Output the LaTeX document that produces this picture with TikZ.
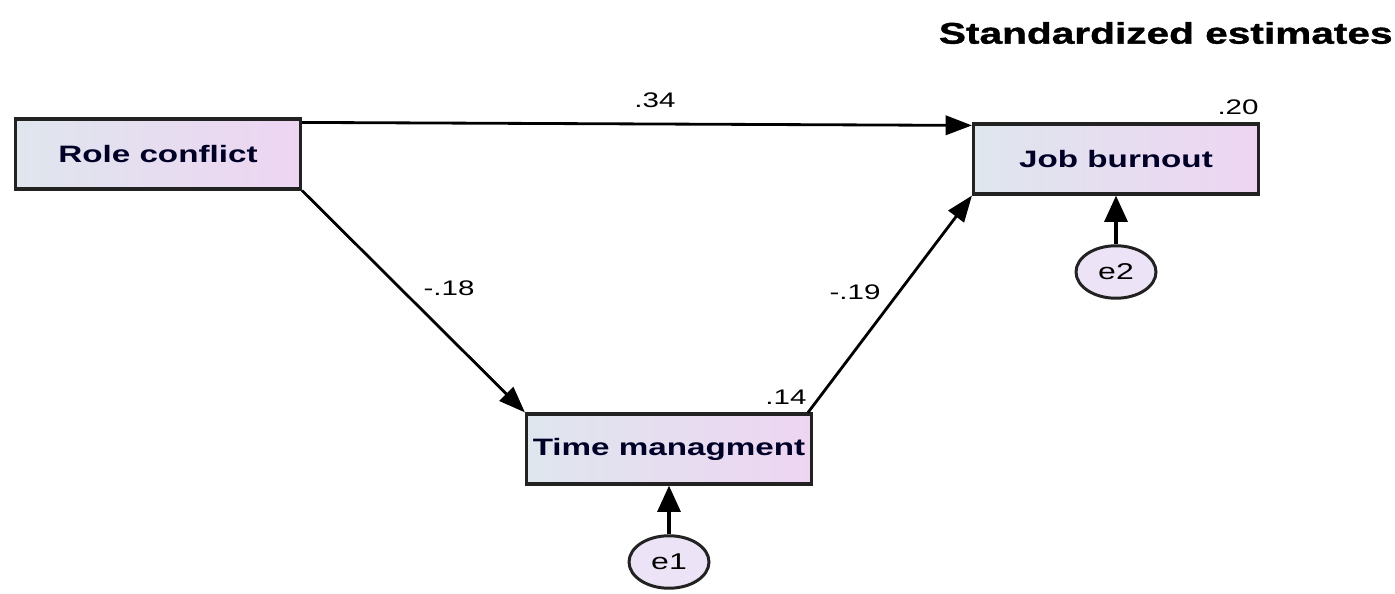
\documentclass[tikz,border=0pt]{standalone}
\usepackage{fontspec}
\usetikzlibrary{arrows.meta,shapes.geometric}
\newfontfamily\semfont[FakeStretch=1.4]{Liberation Sans}
\newfontfamily\titlefont[FakeStretch=1.36,FakeBold=1.2]{Liberation Sans}
\definecolor{boxleft}{HTML}{DFE6EE}
\definecolor{boxright}{HTML}{EDD5F2}
\definecolor{errfill}{HTML}{ECE3F6}
\definecolor{edge}{HTML}{222222}
\tikzset{
  var/.style={draw=edge, line width=1.8pt, rectangle, minimum width=5.7cm, minimum height=1.4cm,
    left color=boxleft, right color=boxright, font=\semfont\bfseries\fontsize{13.5}{15}\selectfont, text=black!85!blue},
  err/.style={draw=edge, line width=1.7pt, ellipse, minimum width=1.6cm, minimum height=1.05cm,
    fill=errfill, inner sep=0pt, font=\semfont\fontsize{13}{15}\selectfont},
  path/.style={line width=1.6pt, -{Triangle[length=15pt,width=11pt]}},
  errpath/.style={line width=2.2pt, -{Triangle[length=15pt,width=13pt]}},
  est/.style={font=\semfont\fontsize{12}{14}\selectfont, inner sep=0pt}
}
\begin{document}
\begin{tikzpicture}[x=0.02cm,y=-0.02cm]
\fill[white] (0,0) rectangle (1395,594);
\useasboundingbox (0,0) rectangle (1395,594);
\node[font=\titlefont\bfseries\fontsize{17}{20}\selectfont, anchor=east, inner sep=0pt] (title) at (1393,33) {Standardized estimates};
\node[var] (rc) at (158,154) {Role conflict};
\node[var] (jb) at (1116,159) {Job burnout};
\node[var] (tm) at (669,449) {Time managment};
\node[err] (e1) at (669,562) {e1};
\node[err] (e2) at (1116,272) {e2};
\draw[path] ([yshift=-0.1cm]rc.north east) -- ([yshift=-0.06cm]jb.north west);
\draw[path] (rc.south east) -- (tm.north west);
\draw[path] ([xshift=-0.1cm]tm.north east) -- (jb.south west);
\draw[errpath] (e1.north) -- (tm.south);
\draw[errpath] (e2.north) -- (jb.south);
\node[est] (l34) at (655,100) {.34};
\node[est] (l20) at (1238,107) {.20};
\node[est] (l18) at (449,288) {-.18};
\node[est] (l19) at (855,292) {-.19};
\node[est] (l14) at (786,397) {.14};
\end{tikzpicture}
\end{document}
